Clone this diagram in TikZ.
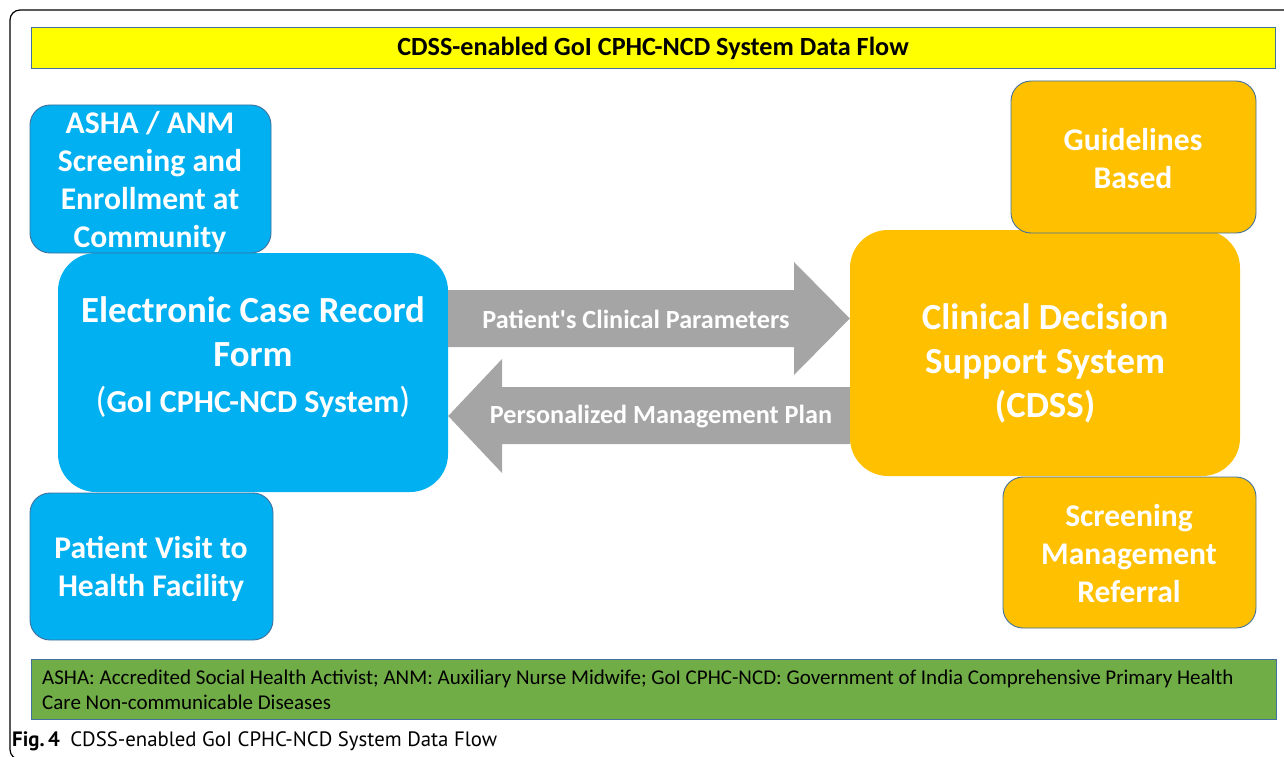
\documentclass[tikz,border=0pt]{standalone}
\usepackage{fontspec}
\setmainfont{Carlito}
\newfontfamily\capfont{PT Sans}
\usetikzlibrary{calc}
\definecolor{cblue}{HTML}{00B0F0}
\definecolor{corange}{HTML}{FFC000}
\definecolor{cborder}{HTML}{41719C}
\definecolor{cgray}{HTML}{A5A5A5}
\definecolor{cgreen}{HTML}{70AD47}
\definecolor{cyellow}{HTML}{FFFF00}
\newcommand{\thinparen}[1]{{\mdseries\fontsize{36}{36}\selectfont #1}}
\tikzset{
  bluebox/.style={fill=cblue, inner sep=0pt},
  orangebox/.style={fill=corange, inner sep=0pt},
  smallbox/.style={draw=cborder, line width=0.9pt, rounded corners=20pt},
  bigbox/.style={rounded corners=38pt},
  wtext/.style={text=white, align=center, inner sep=0pt, font=\bfseries\fontsize{31.6}{38}\selectfont},
  btext/.style={text=white, align=center, inner sep=0pt, font=\bfseries\fontsize{36.8}{44}\selectfont},
  arrowbody/.style={fill=cgray},
  arrowtext/.style={text=white, inner sep=0pt, font=\bfseries\fontsize{26.2}{30}\selectfont},
}
\begin{document}
\begin{tikzpicture}[x=1pt,y=-1pt]
\useasboundingbox (0,0) rectangle (1284,757);
\begin{scope}
\clip (0,0) rectangle (1284,757);
\draw[line width=1.2pt, rounded corners=10pt] (10,10) rectangle (1320,759.5);
\end{scope}
% title bar
\node[draw=cborder, line width=0.9pt, fill=cyellow, minimum width=1244pt, minimum height=41pt, inner sep=0pt] (title) at (653,47.5) {};
\node[font=\bfseries\fontsize{26.2}{30}\selectfont, inner sep=0pt] (titletext) at (653,48) {CDSS-enabled GoI CPHC-NCD System Data Flow};
% big boxes
\node[bluebox, bigbox, minimum width=390pt, minimum height=239pt] (ecrf) at (253,372.5) {};
\node[orangebox, bigbox, minimum width=390pt, minimum height=246pt] (cdss) at (1045,353) {};
% small boxes
\node[bluebox, smallbox, minimum width=241pt, minimum height=148pt] (asha) at (150.5,179) {};
\node[bluebox, smallbox, minimum width=243pt, minimum height=147pt] (visit) at (151.5,566.5) {};
\node[orangebox, smallbox, minimum width=245pt, minimum height=152pt] (guide) at (1133.5,157) {};
\node[orangebox, smallbox, minimum width=253pt, minimum height=151pt] (screen) at (1129.5,552.5) {};
% texts
\node[wtext] (ashatext) at (150,182) {ASHA / ANM\\Screening and\\Enrollment at\\Community};
\node[wtext] (visittext) at (151,569) {Patient Visit to\\Health Facility};
\node[wtext] (guidetext) at (1133,159) {Guidelines\\Based};
\node[wtext] (screentext) at (1129,554) {Screening\\Management\\Referral};
\node[btext] (ecrftext) at (253,357) {Electronic Case Record\\Form\\[2pt]{\fontsize{32}{36}\selectfont\thinparen{(}GoI CPHC-NCD System\thinparen{)}}};
\node[btext] (cdsstext) at (1045,363) {Clinical Decision\\Support System\\(CDSS)};
% arrows
\fill[arrowbody] (ecrf.east |- 0,290) -- (794,290) -- (794,262) -- (cdss.west |- 0,318.5) -- (794,375) -- (794,347) -- (ecrf.east |- 0,347) -- cycle;
\fill[arrowbody] (cdss.west |- 0,387) -- (502,387) -- (502,359) -- (ecrf.east |- 0,416) -- (502,473) -- (502,444) -- (cdss.west |- 0,444) -- cycle;
\node[arrowtext] (a1text) at (636,319) {Patient\textquotesingle s Clinical Parameters};
\node[arrowtext] (a2text) at (661,417) {Personalized Management Plan};
% footnote box
\node[draw=cborder, line width=0.9pt, fill=cgreen, minimum width=1245pt, minimum height=60pt, inner sep=0pt] (note) at (653.5,689) {};
\node[anchor=west, align=left, inner sep=0pt, font=\fontsize{21}{25}\selectfont] (notetext) at (42,690) {ASHA: Accredited Social Health Activist; ANM: Auxiliary Nurse Midwife; GoI CPHC-NCD: Government of India Comprehensive Primary Health\\Care Non-communicable Diseases};
% caption
\node[anchor=west, inner sep=0pt, font=\capfont\fontsize{20.8}{24}\selectfont] (caption) at (12,741) {\textbf{Fig.\,4}\hspace{0.5em}CDSS-enabled GoI CPHC-NCD System Data Flow};
\end{tikzpicture}
\end{document}
